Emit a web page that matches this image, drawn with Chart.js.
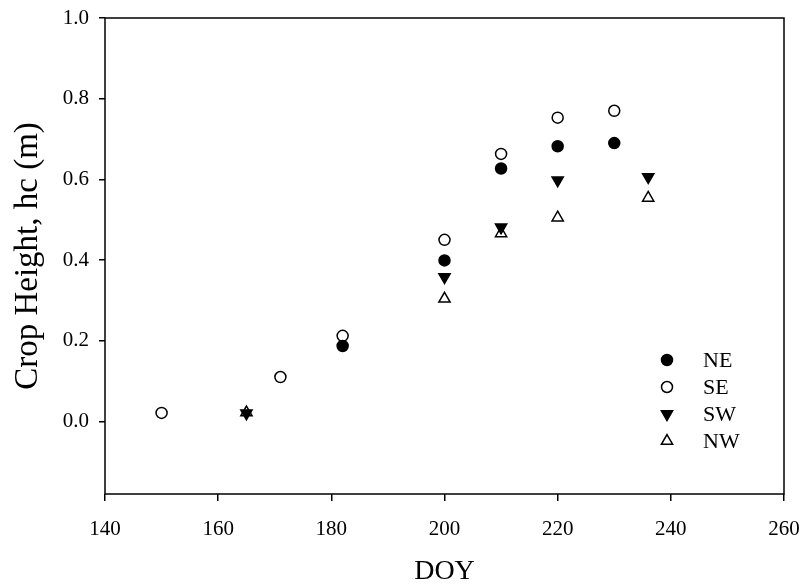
<!DOCTYPE html>
<html>
<head>
<meta charset="utf-8">
<script src="https://cdn.jsdelivr.net/npm/chart.js@4.4.1/dist/chart.umd.min.js"></script>
<style>
  html, body { margin: 0; padding: 0; background: #fff; }
  #wrap { width: 804px; height: 586px; }
</style>
</head>
<body>
<div id="wrap"><canvas id="c"></canvas></div>
<script>
// Day of year and crop height (m) for each field quadrant
const neDoy = [182, 200, 210, 220, 230];
const neHc  = [0.187, 0.399, 0.627, 0.682, 0.690];

const seDoy = [150, 171, 182, 200, 210, 220, 230];
const seHc  = [0.021, 0.110, 0.212, 0.450, 0.663, 0.753, 0.770];

const swDoy = [165, 200, 210, 220, 236];
const swHc  = [0.020, 0.358, 0.481, 0.598, 0.606];

const nwDoy = [165, 200, 210, 220, 236];
const nwHc  = [0.022, 0.304, 0.466, 0.505, 0.554];

const yTicks = [0.0, 0.2, 0.4, 0.6, 0.8, 1.0];

const toPts = (xs, ys) => xs.map((x, i) => ({ x, y: ys[i] }));

const serif = '"Liberation Serif", "Times New Roman", serif';

const series = [
  { label: 'NE', data: toPts(neDoy, neHc), pointStyle: 'circle', radius: 5.5, rotation: 0, fill: '#000' },
  { label: 'SE', data: toPts(seDoy, seHc), pointStyle: 'circle', radius: 5.5, rotation: 0, fill: '#fff' },
  { label: 'SW', data: toPts(swDoy, swHc), pointStyle: 'triangle', radius: 6.5, rotation: 180, fill: '#000' },
  { label: 'NW', data: toPts(nwDoy, nwHc), pointStyle: 'triangle', radius: 6.5, rotation: 0, fill: '#fff' }
];

const framePlugin = {
  id: 'frame',
  afterDraw(chart) {
    const { ctx, chartArea: a } = chart;
    ctx.save();
    ctx.strokeStyle = '#000';
    ctx.lineWidth = 1.5;
    ctx.strokeRect(a.left, a.top, a.right - a.left, a.bottom - a.top);
    ctx.restore();
  }
};

const legendPlugin = {
  id: 'innerLegend',
  afterDraw(chart) {
    const { ctx } = chart;
    const x0 = 667, y0 = 360, step = 27;
    ctx.save();
    ctx.font = '22px ' + serif;
    ctx.textBaseline = 'middle';
    ctx.textAlign = 'left';
    chart.data.datasets.forEach((ds, i) => {
      const y = y0 + i * step;
      ctx.fillStyle = ds.pointBackgroundColor;
      ctx.strokeStyle = '#000';
      ctx.lineWidth = 1.5;
      Chart.helpers.drawPoint(ctx, {
        pointStyle: ds.pointStyle,
        radius: ds.pointRadius,
        rotation: ds.rotation,
        borderWidth: 1.5
      }, x0, y);
      ctx.fillStyle = '#000';
      ctx.fillText(ds.label, 703, y + 1);
    });
    ctx.restore();
  }
};

new Chart(document.getElementById('c'), {
  type: 'scatter',
  data: {
    datasets: series.map(s => ({
      label: s.label,
      data: s.data,
      pointStyle: s.pointStyle,
      pointRadius: s.radius,
      pointHoverRadius: s.radius,
      rotation: s.rotation,
      pointBackgroundColor: s.fill,
      pointBorderColor: '#000',
      pointBorderWidth: 1.5
    }))
  },
  options: {
    responsive: true,
    maintainAspectRatio: false,
    animation: false,
    layout: { padding: { top: 18, right: 20, left: 0, bottom: 0 } },
    plugins: {
      legend: { display: false },
      tooltip: { enabled: false }
    },
    scales: {
      x: {
        type: 'linear',
        min: 140,
        max: 260,
        ticks: { stepSize: 20, color: '#000', padding: 16, font: { family: serif, size: 21 } },
        grid: { drawOnChartArea: false, drawTicks: true, tickLength: 7, color: '#000', lineWidth: 1.5 },
        border: { display: false },
        title: { display: true, text: 'DOY', color: '#000', padding: { top: 0, bottom: 0 }, font: { family: serif, size: 28, lineHeight: 1 } },
        afterFit(scale) {
          scale.height = 92;
          scale.paddingLeft = 0;
          scale.paddingRight = 0;
        }
      },
      y: {
        type: 'linear',
        min: -0.18,
        max: 1.0,
        afterBuildTicks(scale) { scale.ticks = yTicks.map(v => ({ value: v })); },
        ticks: { color: '#000', padding: 10, font: { family: serif, size: 21 }, callback: v => v.toFixed(1) },
        grid: { drawOnChartArea: false, drawTicks: true, tickLength: 6, color: '#000', lineWidth: 1.5 },
        border: { display: false },
        title: { display: true, text: 'Crop Height, hc (m)', color: '#000', padding: { top: 12, bottom: 0 }, font: { family: serif, size: 33, lineHeight: 1 } },
        afterFit(scale) {
          scale.width = 105;
          scale.paddingTop = 0;
          scale.paddingBottom = 0;
        }
      }
    }
  },
  plugins: [framePlugin, legendPlugin]
});
</script>
</body>
</html>
